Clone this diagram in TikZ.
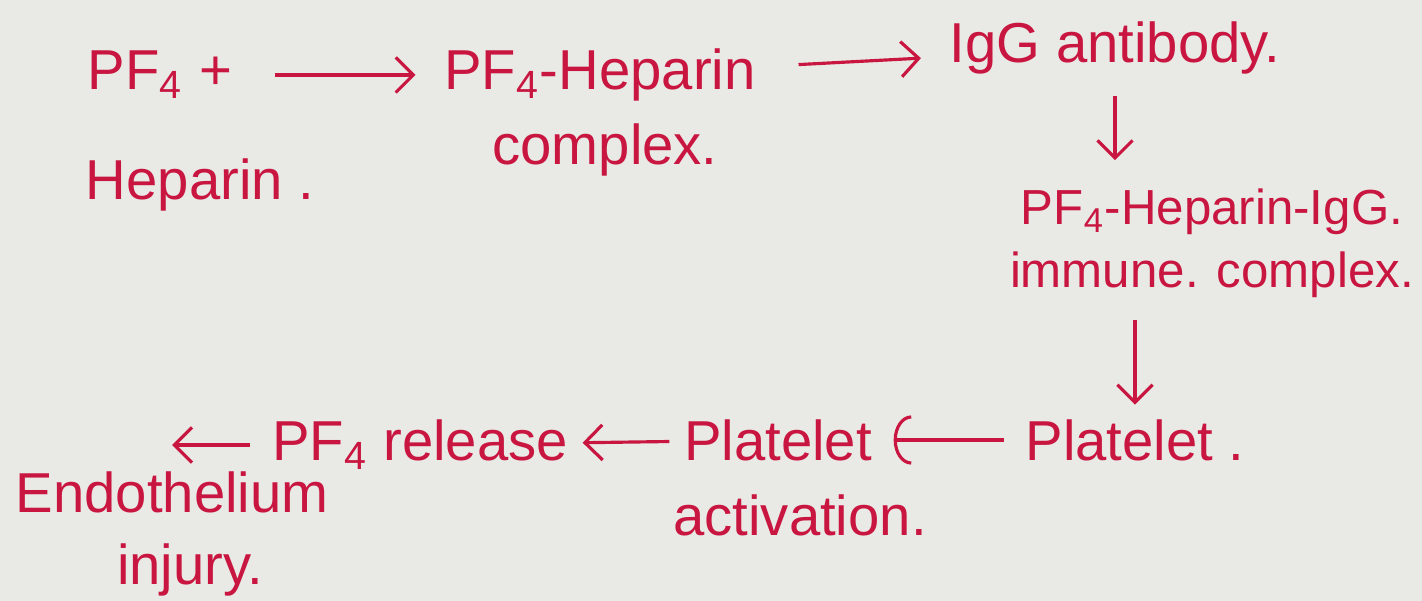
\documentclass[tikz,border=0pt]{standalone}
\usepackage{fontspec}
\setmainfont{Liberation Sans}
\usetikzlibrary{arrows.meta,positioning}
\definecolor{inkred}{RGB}{200,22,64}
\definecolor{paper}{RGB}{233,233,229}
\newcommand{\PFf}{PF\textsubscript{4}}

\begin{document}
\begin{tikzpicture}[x=0.01cm,y=-0.01cm, >={Straight Barb[length=5pt,width=10pt]},
        every node/.style={text=inkred,font=\fontsize{16}{19}\selectfont,inner sep=2pt},
        small/.style={font=\fontsize{14}{17}\selectfont},
        every edge/.append style={draw=inkred},
        flow/.style={->,line width=0.9pt,shorten <=10pt,shorten >=6pt}]
        \fill[paper] (0,0) rectangle (1422,601);
        \useasboundingbox (0,0) rectangle (1422,601);

        % top row
        \node (pf4)   at (160,75)   {\PFf\ +};
        \node (hep)   at (200,185)  {Heparin .};
        \node (cplx)  at (600,75)   {\PFf-Heparin};
        \node (cplxb) at (605,150)  {complex.};
        \node (igg)   at (1115,48)  {IgG antibody.};
        % right column
        \node[small] (imm)  at (1212,212) {\PFf-Heparin-IgG.};
        \node[small] (immb) at (1212,275) {immune. complex.};
        \node (plt)   at (1135,440) {Platelet .};
        % bottom row
        \node (act)   at (778,440)  {Platelet};
        \node (actb)  at (800,515)  {activation.};
        \node (rel)   at (420,445)  {\PFf\ release};
        \node[anchor=west] (endo)  at (8,492)   {Endothelium};
        \node (endob) at (190,570)  {injury.};

        \path[flow] (pf4)  edge (cplx)
                    (cplx) edge (igg)
                    (igg)  edge[shorten <=4pt] (igg |- imm.north)
                    (plt |- immb.south) edge[shorten <=4pt,shorten >=2pt] (plt)
                    (plt)  edge[-{Arc Barb[length=5pt,width=14pt]},shorten <=4pt,shorten >=4pt] (act)
                    (act)  edge[shorten <=2pt,shorten >=2pt] (rel)
                    (rel.west) edge[shorten <=4pt,shorten >=0pt] (rel.west -| endo.north);
\end{tikzpicture}
\end{document}
